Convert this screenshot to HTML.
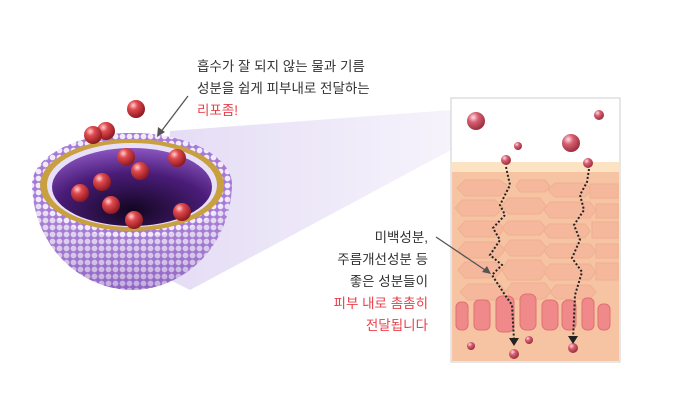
<!DOCTYPE html>
<html><head><meta charset="utf-8"><style>
html,body{margin:0;padding:0;background:#fff;width:700px;height:414px;overflow:hidden}
svg{display:block}
text{font-family:"Liberation Sans","Noto Sans CJK KR",sans-serif;font-size:13.5px;fill:#333}
.r{fill:#e8404a}
</style></head><body>
<svg width="700" height="414" viewBox="0 0 700 414" xmlns="http://www.w3.org/2000/svg">
<defs>
<radialGradient id="ball" cx="0.35" cy="0.3" r="0.7"><stop offset="0" stop-color="#ffd0d0"/><stop offset="0.35" stop-color="#e04a4e"/><stop offset="1" stop-color="#8e1a22"/></radialGradient>
<radialGradient id="pb" cx="0.35" cy="0.3" r="0.7"><stop offset="0" stop-color="#fde"/><stop offset="0.4" stop-color="#d86070"/><stop offset="1" stop-color="#9a3040"/></radialGradient>
<radialGradient id="inner" cx="0.5" cy="0.8" r="0.8"><stop offset="0" stop-color="#120620"/><stop offset="0.6" stop-color="#4a1c78"/><stop offset="1" stop-color="#8a55c0"/></radialGradient>
<linearGradient id="beam" x1="0" y1="0" x2="1" y2="0"><stop offset="0" stop-color="#ddd3f2"/><stop offset="1" stop-color="#f4f0fb"/></linearGradient>
<linearGradient id="shade" x1="0" y1="0" x2="0" y2="1"><stop offset="0" stop-color="#fff" stop-opacity="0"/><stop offset="1" stop-color="#6a3aa0" stop-opacity="0.35"/></linearGradient>
<pattern id="dots" width="7" height="7" patternUnits="userSpaceOnUse"><rect width="7" height="7" fill="#a67ad8"/><circle cx="3.5" cy="3.5" r="2.9" fill="#f1eafb"/></pattern>
</defs>
<polygon points="170,131 451,110 451,150 190,290 160,275" fill="url(#beam)" opacity="0.8"/>
<path d="M32,185 A100,52 0 0 1 232,185 C230,250 180,290 132,290 C84,290 34,250 32,185 Z" fill="url(#dots)"/>
<path d="M32,185 A100,52 0 0 1 232,185 C230,250 180,290 132,290 C84,290 34,250 32,185 Z" fill="url(#shade)"/>
<ellipse cx="132" cy="185" rx="100" ry="52" fill="url(#dots)"/>
<ellipse cx="132" cy="185" rx="92" ry="46" fill="#c8a040"/>
<ellipse cx="132" cy="185" rx="85" ry="42" fill="#e8e0f8"/>
<ellipse cx="132" cy="187" rx="80" ry="39" fill="url(#inner)"/>
<g fill="url(#ball)">
<circle cx="136" cy="109" r="9"/><circle cx="106" cy="131" r="9"/><circle cx="93" cy="135" r="9"/>
<circle cx="126" cy="157" r="9"/><circle cx="177" cy="158" r="9"/><circle cx="140" cy="171" r="9"/>
<circle cx="102" cy="182" r="9"/><circle cx="80" cy="193" r="9"/><circle cx="111" cy="205" r="9"/>
<circle cx="182" cy="212" r="9"/><circle cx="134" cy="220" r="9"/>
</g>
<text x="197" y="71">흡수가 잘 되지 않는 물과 기름</text>
<text x="197" y="93">성분을 쉽게 피부내로 전달하는</text>
<text x="197" y="115" class="r">리포좀!</text>
<line x1="188" y1="96" x2="160" y2="133" stroke="#555" stroke-width="1.3"/>
<polygon points="157,137 158,127 165,132" fill="#555"/>
<rect x="451" y="98" width="169" height="264" fill="#fff" stroke="#ccc"/>
<rect x="452" y="162" width="167" height="10" fill="#fbe3c4"/>
<rect x="452" y="172" width="167" height="189" fill="#f6c4a2"/>
<g fill="#f5b89c" stroke="#eeb090" stroke-width="1">
<polygon points="465,180 500,180 510,188 500,196 465,196 457,188"/>
<polygon points="520,180 545,180 550,186 545,192 520,192 516,186"/>
<polygon points="555,183 585,183 592,190 585,197 555,197 548,190"/>
<polygon points="590,184 618,184 618,198 590,198"/>
<polygon points="462,200 495,200 503,208 495,216 462,216 455,208"/>
<polygon points="508,198 540,198 546,206 540,214 508,214 502,206"/>
<polygon points="550,202 590,202 596,210 590,218 550,218 544,210"/>
<polygon points="596,204 618,204 618,218 596,218"/>
<polygon points="465,221 498,221 504,229 498,237 465,237 458,229"/>
<polygon points="508,221 540,221 546,228 540,235 508,235 502,228"/>
<polygon points="549,224 585,224 590,231 585,238 549,238 544,231"/>
<polygon points="592,222 618,222 618,238 592,238"/>
<polygon points="465,242 498,242 505,250 498,258 465,258 458,250"/>
<polygon points="510,240 540,240 547,248 540,256 510,256 504,248"/>
<polygon points="550,244 590,244 596,251 590,258 550,258 544,251"/>
<polygon points="596,244 618,244 618,258 596,258"/>
<polygon points="465,262 495,262 502,270 495,278 465,278 458,270"/>
<polygon points="508,260 540,260 548,270 540,280 508,280 502,270"/>
<polygon points="550,264 590,264 596,272 590,280 550,280 544,272"/>
<polygon points="596,263 618,263 618,280 596,280"/>
<polygon points="468,284 500,284 506,292 500,300 468,300 460,292"/>
<polygon points="512,283 545,283 551,291 545,299 512,299 506,291"/>
<polygon points="556,285 590,285 596,292 590,299 556,299 550,292"/>
</g>
<g fill="#f08a8a" stroke="#e07070">
<rect x="456" y="302" width="12" height="28" rx="5"/>
<rect x="474" y="300" width="16" height="30" rx="5"/>
<rect x="496" y="296" width="18" height="36" rx="6"/>
<rect x="520" y="294" width="16" height="36" rx="6"/>
<rect x="542" y="300" width="16" height="30" rx="6"/>
<rect x="562" y="300" width="14" height="30" rx="6"/>
<rect x="582" y="298" width="12" height="32" rx="5"/>
<rect x="598" y="304" width="12" height="26" rx="5"/>
</g>
<g fill="url(#pb)">
<circle cx="476" cy="121" r="9"/><circle cx="599" cy="115" r="5"/><circle cx="571" cy="143" r="9"/>
<circle cx="518" cy="146" r="4"/><circle cx="506" cy="160" r="5"/><circle cx="588" cy="163" r="5"/>
<circle cx="471" cy="346" r="4"/><circle cx="529" cy="340" r="4"/><circle cx="514" cy="354" r="5"/><circle cx="573" cy="348" r="5"/>
</g>
<g fill="none" stroke="#222" stroke-width="2" stroke-dasharray="2,2">
<polyline points="506,167 510,185 500,205 505,215 493,228 500,240 490,255 502,265 492,275 505,295 512,305 514,340"/>
<polyline points="589,169 587,182 580,195 584,210 574,225 580,240 572,258 582,272 575,295 573,340"/>
</g>
<polygon points="509,338 519,338 514,346" fill="#222"/>
<polygon points="568,336 578,336 573,344" fill="#222"/>
<g text-anchor="end">
<text x="428" y="242">미백성분,</text>
<text x="428" y="264">주름개선성분 등</text>
<text x="428" y="286">좋은 성분들이</text>
<text x="428" y="308" class="r">피부 내로 촘촘히</text>
<text x="428" y="330" class="r">전달됩니다</text>
</g>
<line x1="436" y1="237" x2="488" y2="272" stroke="#555" stroke-width="1.3"/>
<polygon points="491,274 482,272 487,266" fill="#555"/>
</svg>
</body></html>
